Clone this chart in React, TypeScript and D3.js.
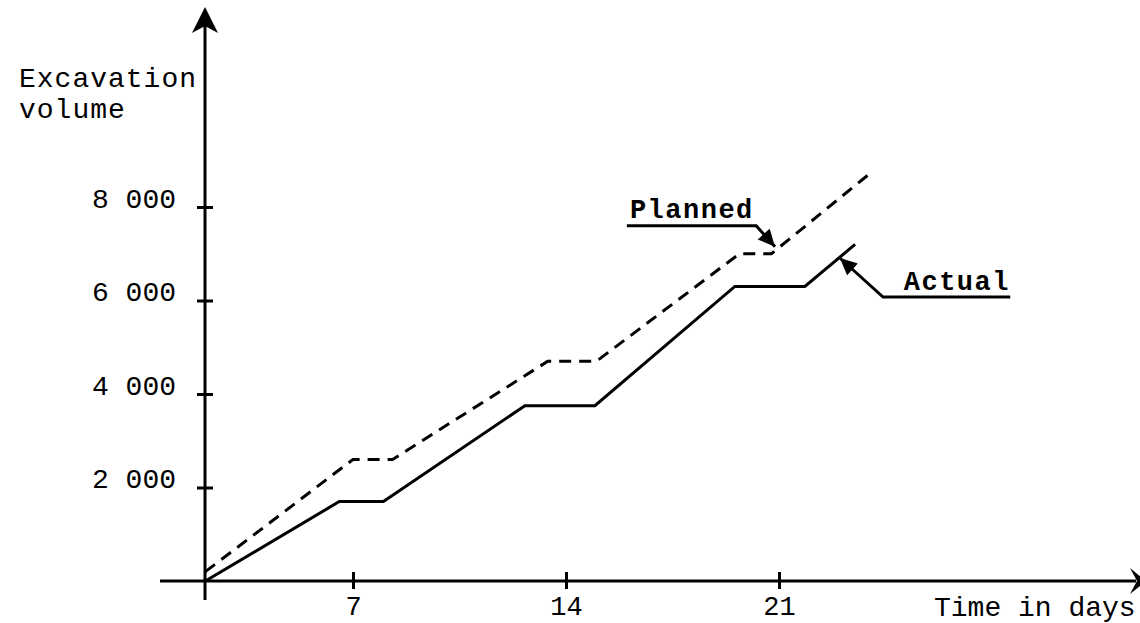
import React, { useRef, useEffect } from 'react';
import * as d3 from 'd3';

// Actual excavation volume (solid line)
const actualDays = [2.15, 6.55, 8.0, 12.65, 14.95, 19.55, 21.85, 23.5];
const actualVolume = [0, 1700, 1700, 3750, 3750, 6300, 6300, 7200];

// Planned excavation volume (dashed line)
const plannedDays = [2.15, 7.0, 8.3, 13.4, 15.0, 19.7, 20.75, 24.05];
const plannedVolume = [200, 2600, 2600, 4700, 4700, 7000, 7000, 8750];

const xTicks = [7, 14, 21];
const xTickLabels = ['7', '14', '21'];
const yTicks = [2000, 4000, 6000, 8000];
const yTickLabels = ['2 000', '4 000', '6 000', '8 000'];

// Leader lines for the two annotations: [day, volume]
const plannedLeader: [number, number][] = [[16.0, 7600], [20.25, 7600], [20.87, 7150]];
const actualLeader: [number, number][] = [[28.6, 6075], [24.42, 6075], [23.0, 6909]];

const FONT = '"Liberation Mono", "DejaVu Sans Mono", monospace';

const App: React.FC = () => {
  const svgRef = useRef<SVGSVGElement>(null);
  const width = 1140;
  const height = 623;

  useEffect(() => {
    if (!svgRef.current) return;
    const svg = d3.select(svgRef.current);
    svg.selectAll('*').remove();

    const x = d3.scaleLinear().domain([7, 21]).range([353, 779]);
    const y = d3.scaleLinear().domain([0, 8000]).range([581, 207]);

    const originX = 205;
    const originY = y(0);

    // axis lines
    svg.append('line')
      .attr('x1', originX).attr('x2', originX)
      .attr('y1', 600).attr('y2', 14)
      .attr('stroke', '#000').attr('stroke-width', 3);
    svg.append('path')
      .attr('d', `M${originX},7 L${originX - 13},33 L${originX},26 L${originX + 13},33 Z`)
      .attr('fill', '#000');

    svg.append('line')
      .attr('x1', 160).attr('x2', 1136)
      .attr('y1', originY).attr('y2', originY)
      .attr('stroke', '#000').attr('stroke-width', 3);
    svg.append('path')
      .attr('d', `M1146,${originY} L1130,${originY - 13} L1137,${originY} L1130,${originY + 13} Z`)
      .attr('fill', '#000');

    // x axis ticks
    const xAxis = svg.append('g')
      .attr('transform', `translate(0,${originY})`)
      .call(
        d3.axisBottom(x)
          .tickValues(xTicks)
          .tickFormat((_, i) => xTickLabels[i])
          .tickSize(8)
      );
    xAxis.select('.domain').remove();
    xAxis.selectAll('.tick line')
      .attr('y1', -9).attr('y2', 8)
      .attr('stroke', '#000').attr('stroke-width', 3);
    xAxis.selectAll('.tick text')
      .attr('y', 34).attr('dy', 0)
      .attr('fill', '#000')
      .attr('font-family', FONT)
      .attr('font-size', 27);

    // y axis ticks
    const yAxis = svg.append('g')
      .attr('transform', `translate(${originX},0)`)
      .call(
        d3.axisLeft(y)
          .tickValues(yTicks)
          .tickFormat((_, i) => yTickLabels[i])
          .tickSize(7)
      );
    yAxis.select('.domain').remove();
    yAxis.selectAll('.tick line')
      .attr('x1', -8).attr('x2', 8)
      .attr('stroke', '#000').attr('stroke-width', 3);
    yAxis.selectAll('.tick text')
      .attr('x', -29).attr('dy', 0)
      .attr('fill', '#000')
      .attr('font-family', FONT)
      .attr('font-size', 28);

    // axis titles
    const title = svg.append('text')
      .attr('font-family', FONT)
      .attr('font-size', 28)
      .attr('letter-spacing', 1)
      .attr('fill', '#000');
    title.append('tspan').attr('x', 19).attr('y', 87).text('Excavation');
    title.append('tspan').attr('x', 19).attr('y', 118).text('volume');

    svg.append('text')
      .attr('x', 934).attr('y', 616)
      .attr('font-family', FONT)
      .attr('font-size', 28)
      .attr('fill', '#000')
      .text('Time in days');

    // series
    const line = d3.line<[number, number]>()
      .x((d) => x(d[0]))
      .y((d) => y(d[1]));

    const planned = plannedDays.map((d, i) => [d, plannedVolume[i]] as [number, number]);
    const actual = actualDays.map((d, i) => [d, actualVolume[i]] as [number, number]);

    svg.append('path')
      .datum(planned)
      .attr('d', line)
      .attr('fill', 'none')
      .attr('stroke', '#000')
      .attr('stroke-width', 3)
      .attr('stroke-dasharray', '12,8');

    svg.append('path')
      .datum(actual)
      .attr('d', line)
      .attr('fill', 'none')
      .attr('stroke', '#000')
      .attr('stroke-width', 3);

    // annotations
    const addLeader = (pts: [number, number][]) => {
      svg.append('path')
        .datum(pts)
        .attr('d', line)
        .attr('fill', 'none')
        .attr('stroke', '#000')
        .attr('stroke-width', 3);
      const [px, py] = pts[pts.length - 2];
      const [tx, ty] = pts[pts.length - 1];
      const ax = x(tx), ay = y(ty);
      const ang = Math.atan2(ay - y(py), ax - x(px));
      const len = 17, half = 8;
      const bx = ax - len * Math.cos(ang), by = ay - len * Math.sin(ang);
      svg.append('path')
        .attr('d', `M${ax},${ay} L${bx + half * Math.sin(ang)},${by - half * Math.cos(ang)} L${bx - half * Math.sin(ang)},${by + half * Math.cos(ang)} Z`)
        .attr('fill', '#000');
    };
    addLeader(plannedLeader);
    addLeader(actualLeader);

    svg.append('text')
      .attr('x', x(16.1)).attr('y', y(7765))
      .attr('font-family', FONT)
      .attr('font-size', 27)
      .attr('font-weight', 'bold')
      .attr('letter-spacing', 1.5)
      .attr('fill', '#000')
      .text('Planned');

    svg.append('text')
      .attr('x', x(25.1)).attr('y', y(6225))
      .attr('font-family', FONT)
      .attr('font-size', 27)
      .attr('font-weight', 'bold')
      .attr('letter-spacing', 1.5)
      .attr('fill', '#000')
      .text('Actual');
  }, []);

  return (
    <svg
      ref={svgRef}
      width={width}
      height={height}
      style={{ position: 'absolute', left: 0, top: 0, background: '#fff' }}
    />
  );
};

export default App;
